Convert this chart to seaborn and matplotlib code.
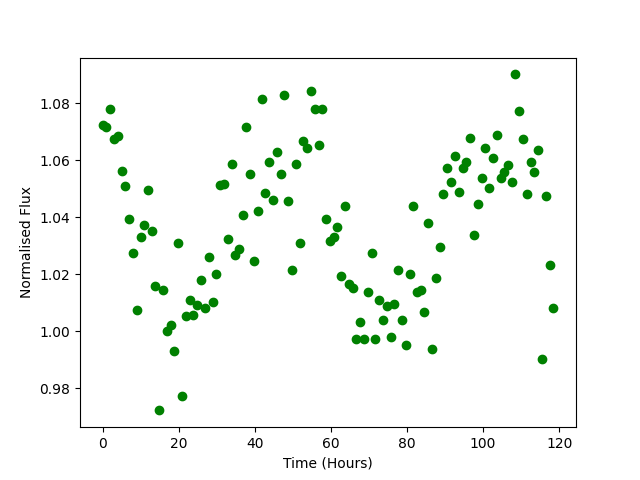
import matplotlib
matplotlib.use("Agg")
import matplotlib.pyplot as plt
import seaborn as sns
import pandas as pd

time_hours = [
    0.0, 1.0, 2.0, 3.0, 4.0, 5.0, 6.0, 7.0, 8.0, 9.0,
    10.0, 11.0, 11.9, 12.9, 13.9, 14.9, 15.9, 16.9, 17.9, 18.9,
    19.9, 20.9, 21.9, 22.9, 23.9, 24.9, 25.9, 26.9, 27.9, 28.9,
    29.9, 30.9, 31.9, 32.9, 33.9, 34.9, 35.8, 36.8, 37.8, 38.8,
    39.8, 40.8, 41.8, 42.8, 43.8, 44.8, 45.8, 46.8, 47.8, 48.8,
    49.8, 50.8, 51.8, 52.8, 53.8, 54.8, 55.8, 56.8, 57.8, 58.8,
    59.7, 60.7, 61.7, 62.7, 63.7, 64.7, 65.7, 66.7, 67.7, 68.7,
    69.7, 70.7, 71.7, 72.7, 73.7, 74.7, 75.7, 76.7, 77.7, 78.7,
    79.7, 80.7, 81.7, 82.7, 83.6, 84.6, 85.6, 86.6, 87.6, 88.6,
    89.6, 90.6, 91.6, 92.6, 93.6, 94.6, 95.6, 96.6, 97.6, 98.6,
    99.6, 100.6, 101.6, 102.6, 103.6, 104.6, 105.6, 106.6, 107.5, 108.5,
    109.5, 110.5, 111.5, 112.5, 113.5, 114.5, 115.5, 116.5, 117.5, 118.5,
]

normalised_flux = [
    1.0725, 1.0716, 1.0778, 1.0674, 1.0684, 1.0562, 1.0508, 1.0395, 1.0276, 1.0076,
    1.0329, 1.0374, 1.0494, 1.0353, 1.0159, 0.9722, 1.0144, 1.0002, 1.0021, 0.9932,
    1.0311, 0.9774, 1.0052, 1.0108, 1.0055, 1.0091, 1.0181, 1.0080, 1.0259, 1.0101,
    1.0199, 1.0512, 1.0515, 1.0325, 1.0588, 1.0269, 1.0290, 1.0409, 1.0718, 1.0550,
    1.0245, 1.0420, 1.0816, 1.0484, 1.0595, 1.0462, 1.0627, 1.0550, 1.0827, 1.0456,
    1.0213, 1.0588, 1.0308, 1.0669, 1.0641, 1.0841, 1.0781, 1.0652, 1.0781, 1.0395,
    1.0318, 1.0332, 1.0367, 1.0195, 1.0438, 1.0164, 1.0153, 0.9974, 1.0031, 0.9974,
    1.0139, 1.0276, 0.9974, 1.0108, 1.0038, 1.0087, 0.9981, 1.0094, 1.0216, 1.0038,
    0.9950, 1.0202, 1.0438, 1.0136, 1.0143, 1.0066, 1.0381, 0.9939, 1.0185, 1.0294,
    1.0480, 1.0574, 1.0522, 1.0613, 1.0487, 1.0572, 1.0595, 1.0677, 1.0336, 1.0445,
    1.0536, 1.0641, 1.0504, 1.0606, 1.0687, 1.0536, 1.0560, 1.0582, 1.0522, 1.0901,
    1.0771, 1.0673, 1.0483, 1.0592, 1.0560, 1.0634, 0.9904, 1.0476, 1.0231, 1.0080,
]

df = pd.DataFrame({"Time (Hours)": time_hours, "Normalised Flux": normalised_flux})

fig, ax = plt.subplots(figsize=(6.4, 4.8), dpi=100)
sns.scatterplot(data=df, x="Time (Hours)", y="Normalised Flux", ax=ax,
                color="green", s=36, edgecolor="green", linewidth=1)
ax.set_xlabel("Time (Hours)")
ax.set_ylabel("Normalised Flux")
fig.savefig("out.png", dpi=100)
